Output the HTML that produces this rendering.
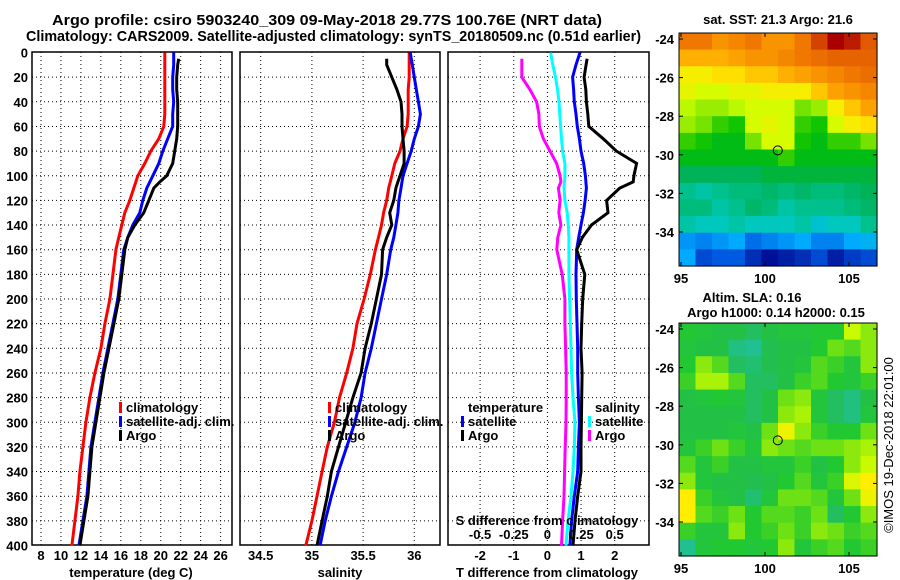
<!DOCTYPE html>
<html><head><meta charset="utf-8"><style>
html,body{margin:0;padding:0;background:#fff;}
svg{display:block;font-family:"Liberation Sans",Arial,sans-serif;font-weight:bold;}
</style></head><body>
<svg id="chart" width="900" height="580" viewBox="0 0 900 580" xmlns="http://www.w3.org/2000/svg">
<text x="52" y="25" font-size="15" textLength="550" lengthAdjust="spacingAndGlyphs">Argo profile: csiro 5903240_309 09-May-2018 29.77S 100.76E (NRT data)</text>
<text x="26" y="41" font-size="15" textLength="615" lengthAdjust="spacingAndGlyphs">Climatology: CARS2009. Satellite-adjusted climatology: synTS_20180509.nc (0.51d earlier)</text>
<g id="g"></g>
</svg>
<script>
// ---- profile data ----
const gridDepth=[0,10,20,30,40,50,60,70,80,90,100,110,120,130,140,150,160,180,200,220,240,260,280,300,320,340,360,380,400];
const argoDepth=[5,10,20,30,40,50,60,70,80,90,100,105,110,120,130,140,150,160,180,200,220,240,260,280,300,320,340,360,380,400];
const tempClim=[20.4,20.4,20.4,20.4,20.4,20.4,20.3,19.8,19.0,18.4,17.7,17.3,16.9,16.4,16.1,15.8,15.5,15.2,14.9,14.4,14.0,13.4,12.9,12.5,12.2,11.9,11.7,11.4,11.1];
const tempSat=[21.3,21.3,21.2,21.2,21.3,21.2,21.2,20.7,20.2,19.8,19.2,18.6,18.2,17.9,17.2,16.7,16.3,16.0,15.7,15.2,14.7,14.2,13.8,13.4,13.0,12.8,12.6,12.2,11.8];
const tempArgo=[21.8,21.7,21.6,21.6,21.7,21.7,21.7,21.6,21.4,21.2,20.6,19.9,19.3,18.8,18.3,17.4,16.7,16.4,16.1,15.8,15.3,14.8,14.3,13.9,13.5,13.1,12.9,12.7,12.3,11.9];
const salClim=[35.95,35.95,35.95,35.94,35.94,35.94,35.93,35.89,35.86,35.81,35.78,35.75,35.73,35.7,35.68,35.65,35.62,35.57,35.51,35.44,35.4,35.34,35.27,35.22,35.15,35.1,35.05,35.0,34.94];
const salSat=[35.96,35.98,36.0,36.02,36.04,36.06,36.04,36.0,35.97,35.93,35.89,35.87,35.85,35.84,35.82,35.8,35.77,35.73,35.68,35.63,35.58,35.52,35.48,35.42,35.34,35.26,35.19,35.13,35.08];
const salArgo=[35.73,35.73,35.78,35.83,35.87,35.88,35.88,35.89,35.9,35.9,35.86,35.84,35.82,35.8,35.76,35.78,35.73,35.69,35.68,35.63,35.58,35.52,35.48,35.4,35.33,35.26,35.19,35.15,35.1,35.05];
const tDiffSat=[0.97,0.85,0.75,0.78,0.8,0.85,0.89,0.95,1.0,1.08,1.13,1.16,1.12,1.07,1.0,0.93,0.87,0.85,0.86,0.88,0.9,0.9,0.92,0.95,0.92,0.9,0.8,0.72,0.67];
const sDiffSat=[0.024,0.04,0.06,0.075,0.086,0.092,0.098,0.105,0.113,0.13,0.13,0.123,0.13,0.147,0.155,0.16,0.16,0.16,0.165,0.17,0.175,0.18,0.19,0.205,0.2,0.19,0.175,0.153,0.138];
const tDiffArgo=[1.18,1.15,1.09,1.14,1.16,1.2,1.23,1.66,2.05,2.65,2.57,2.55,2.15,1.76,1.8,1.31,1.04,0.87,1.11,1.05,1.02,1.0,1.03,1.02,1.01,1.0,1.0,0.9,0.82,0.76];
const sDiffArgo=[-0.19,-0.19,-0.19,-0.13,-0.08,-0.063,-0.06,-0.03,0.019,0.068,0.094,0.1,0.082,0.094,0.085,0.1,0.077,0.07,0.11,0.13,0.13,0.135,0.14,0.14,0.138,0.132,0.128,0.123,0.113,0.105];
const depthTicks=[0,20,40,60,80,100,120,140,160,180,200,220,240,260,280,300,320,340,360,380,400];
const tempTicks=[8,10,12,14,16,18,20,22,24,26];
const salTicks=[34.5,35,35.5,36];
const tDiffTicks=[-2,-1,0,1,2];
const sDiffTickLabels=["-0.5","-0.25","0","0.25","0.5"];
const sDiffTicks=[-0.5,-0.25,0,0.25,0.5];
// ---- map data ----
const mapLons=[95,100,105];
const mapLats=[-24,-26,-28,-30,-32,-34];
const sstGrid=[
[22.0,22.0,21.8,21.9,22.0,21.8,21.8,22.0,22.5,23.0,22.8,22.3],
[21.6,21.6,21.6,21.7,21.8,21.8,21.9,22.0,22.1,22.2,22.2,22.2],
[21.3,21.3,21.4,21.4,21.5,21.5,21.6,21.7,21.8,21.9,22.0,22.1],
[21.2,21.1,21.1,21.2,21.2,21.3,21.3,21.3,21.5,21.7,21.8,21.9],
[21.0,20.9,20.9,21.0,21.1,21.1,21.1,20.8,20.9,21.3,21.5,21.7],
[20.9,20.8,20.6,20.5,21.1,21.2,21.1,20.6,20.5,21.1,21.3,21.4],
[20.6,20.5,20.4,20.4,20.8,21.1,21.1,20.5,20.4,20.6,20.6,20.8],
[20.4,20.4,20.4,20.4,20.4,20.4,20.6,20.4,20.4,20.4,20.4,20.4],
[20.2,20.2,20.2,20.2,20.2,20.3,20.3,20.3,20.3,20.3,20.3,20.3],
[19.9,19.8,19.9,20.0,20.0,20.1,20.0,20.1,20.0,20.0,20.1,20.2],
[20.0,20.0,19.8,19.9,20.1,20.0,19.8,19.9,19.9,19.9,20.0,20.1],
[19.8,19.7,19.7,19.8,19.7,19.7,19.7,19.8,19.6,19.7,19.7,19.9],
[19.2,19.1,19.2,19.3,19.0,19.1,19.2,19.3,19.1,19.1,19.3,19.4],
[19.3,18.8,18.9,18.9,18.6,18.4,18.5,18.6,18.8,18.5,18.7,18.8]];
const slaGrid=[
[.4,.35,.3,.3,.2,.3,.35,.35,.4,.4,.7,.6],
[.35,.3,.3,.1,.05,.25,.3,.3,.4,.55,.5,.6],
[.4,.6,.5,.2,.15,.25,.3,.35,.5,.45,.35,.6],
[.45,.65,.65,.5,.2,.2,.3,.45,.5,.4,.35,.45],
[.3,.35,.4,.35,.2,.3,.55,.6,.35,.2,.1,.3],
[.3,.3,.3,.3,.2,.3,.6,.65,.35,.2,.1,.35],
[.3,.3,.3,.35,.3,.55,.8,.6,.45,.4,.4,.55],
[.35,.45,.55,.45,.35,.6,.55,.5,.55,.55,.6,.65],
[.5,.35,.45,.3,.3,.35,.35,.45,.3,.4,.6,.7],
[.6,.35,.3,.3,.25,.3,.4,.5,.35,.45,.75,.85],
[.85,.45,.35,.3,.15,.35,.55,.55,.5,.35,.55,.8],
[.85,.5,.45,.55,.4,.5,.5,.45,.55,.2,.4,.6],
[.45,.35,.35,.6,.4,.45,.55,.45,.6,.55,.45,.5],
[.05,.35,.4,.4,.35,.4,.6,.35,.45,.5,.4,.45]];
const argoLon=100.76, argoLat=-29.77;

const NS="http://www.w3.org/2000/svg";
const G=document.getElementById('g');
function el(tag,attrs,parent){const e=document.createElementNS(NS,tag);for(const k in attrs)e.setAttribute(k,attrs[k]);(parent||G).appendChild(e);return e;}
function txt(s,x,y,anchor,size,parent){const t=el('text',{x:x,y:y,'text-anchor':anchor||'middle','font-size':size||13},parent);t.textContent=s;return t;}

const Y0=52.5, YK=1.2325, PT=52, PB=545;
const yD=d=>Y0+d*YK;
const xT=t=>41+(t-8)*9.98;
const xS=s=>260.7+(s-34.5)*102.4;
const xDT=t=>547.4+t*33.65;
const xDS=s=>547.4+s*134.6;

function panel(name,x0,x1,xticks,xfun,labels,ax,axlabel){
  const g=el('g',{});
  
  
  depthTicks.forEach(d=>{ if(d>0&&d<400){const l=el('line',{x1:x0,x2:x1,y1:yD(d),y2:yD(d),stroke:'#000','stroke-width':1,'stroke-dasharray':'1,3'},g);
    
    }});
  xticks.forEach((v,i)=>{const x=xfun(v); if(x>x0+2&&x<x1-2){const l=el('line',{x1:x,x2:x,y1:PT,y2:PB,stroke:'#000','stroke-width':1,'stroke-dasharray':'1,3'},g);
    
    }
    const t=txt(labels[i],x,560,'middle',13,g);
    
    });
  const r=el('rect',{x:x0,y:PT,width:x1-x0,height:PB-PT,fill:'none',stroke:'#000','stroke-width':1.5},g);
  
  
  const t=txt(axlabel,ax,577,'middle',13,g);
  
  
  return g;
}
function series(g,depths,vals,xfun,color,name){
  const pts=vals.map((v,i)=>xfun(v).toFixed(1)+','+yD(depths[i]).toFixed(1)).join(' ');
  const p=el('polyline',{points:pts,fill:'none',stroke:color,'stroke-width':3,'stroke-linejoin':'miter'},g);
  
  
}
function legend(g,x,y,items){
  items.forEach((it,i)=>{
    const m=el('rect',{x:x,y:y+i*14-10,width:3,height:11,fill:it[1]},g);
    
    
    const t=txt(it[0],x+7,y+i*14,'start',13,g);
    
    
  });
}
depthTicks.forEach(d=>{const t=txt(String(d),28,yD(d)+5,'end',13);
  
  });

const p1=panel('temperature-panel',32,232,tempTicks,xT,tempTicks.map(String),131,'temperature (deg C)');
series(p1,gridDepth,tempClim,xT,'#ff0000','temp-climatology-line');
series(p1,gridDepth,tempSat,xT,'#0000ff','temp-satellite-line');
series(p1,argoDepth,tempArgo,xT,'#000000','temp-argo-line');
legend(p1,119,412,[['climatology','#ff0000'],['satellite-adj. clim.','#0000ff'],['Argo','#000']]);

const p2=panel('salinity-panel',240,440,salTicks,xS,salTicks.map(String),340,'salinity');
series(p2,gridDepth,salClim,xS,'#ff0000','sal-climatology-line');
series(p2,gridDepth,salSat,xS,'#0000ff','sal-satellite-line');
series(p2,argoDepth,salArgo,xS,'#000000','sal-argo-line');
legend(p2,328,412,[['climatology','#ff0000'],['satellite-adj. clim.','#0000ff'],['Argo','#000']]);

const p3=panel('difference-panel',448,649,tDiffTicks,xDT,tDiffTicks.map(String),547,'T difference from climatology');
series(p3,argoDepth,sDiffArgo,xDS,'#ff00ff','s-diff-argo-line');
series(p3,gridDepth,sDiffSat,xDS,'#00ffff','s-diff-satellite-line');
series(p3,gridDepth,tDiffSat,xDT,'#0000ff','t-diff-satellite-line');
series(p3,argoDepth,tDiffArgo,xDT,'#000000','t-diff-argo-line');
{const t=txt('temperature',468,412,'start',13,p3);}
legend(p3,461,426,[['satellite','#0000ff'],['Argo','#000']]);
{const t=txt('salinity',595,412,'start',13,p3);}
legend(p3,588,426,[['satellite','#00ffff'],['Argo','#ff00ff']]);
{const t=txt('S difference from climatology',547,525,'middle',13,p3);}
sDiffTicks.forEach((v,i)=>{const t=txt(sDiffTickLabels[i],xDS(v),539,'middle',13,p3);
  
  });

function interp(stops,v){
  if(v<=stops[0][0])return stops[0][1];
  for(let i=1;i<stops.length;i++){if(v<=stops[i][0]){const a=stops[i-1],b=stops[i],f=(v-a[0])/(b[0]-a[0]);
    const c=a[1].map((x,k)=>Math.round(x+(b[1][k]-x)*f));return c;}}
  return stops[stops.length-1][1];
}
const sstStops=[[18.4,[0,16,150]],[18.9,[0,90,225]],[19.3,[0,170,255]],[19.7,[0,200,190]],[19.95,[0,190,130]],[20.25,[0,176,80]],[20.45,[0,192,0]],[20.75,[100,220,0]],[21.05,[204,255,0]],[21.35,[255,235,0]],[21.6,[255,175,0]],[22.0,[240,120,0]],[22.4,[220,80,0]],[23.0,[170,0,0]]];
const slaStops=[[0,[32,192,160]],[0.25,[34,190,80]],[0.4,[34,200,50]],[0.55,[110,225,20]],[0.7,[200,250,0]],[0.85,[255,238,0]],[1,[255,200,0]]];
const MX0=679,MX1=877;
const lonX=lon=>681+(lon-95)*16.8;
function map(name,top,grid,stops,title){
  const g=el('g',{});
  
  
  const bot=top+233;
  const latY=lat=>top+6+(-24-lat)*19.3;
  const rows=grid.length, cols=grid[0].length;
  const cw=(MX1-MX0)/cols, ch=(bot-top)/rows;
  grid.forEach((row,r)=>row.forEach((v,c)=>{
    const col=interp(stops,v);
    const cell=el('rect',{x:(MX0+c*cw).toFixed(2),y:(top+r*ch).toFixed(2),width:(cw+0.6).toFixed(2),height:(ch+0.6).toFixed(2),fill:'rgb('+col.join(',')+')'},g);
    
    
  }));
  const fr=el('rect',{x:MX0,y:top,width:MX1-MX0,height:bot-top,fill:'none',stroke:'#000','stroke-width':1},g);
  
  
  mapLats.forEach(lat=>{const y=latY(lat);
    el('line',{x1:MX0,x2:MX0+4,y1:y,y2:y,stroke:'#000'},g);el('line',{x1:MX1-4,x2:MX1,y1:y,y2:y,stroke:'#000'},g);
    const t=txt(String(lat),674,y+5,'end',13,g);
    
    });
  mapLons.forEach(lon=>{const x=lonX(lon);
    el('line',{x1:x,x2:x,y1:bot-4,y2:bot,stroke:'#000'},g);el('line',{x1:x,x2:x,y1:top,y2:top+4,stroke:'#000'},g);
    const t=txt(String(lon),x,bot+17,'middle',13,g);
    
    });
  const c=el('circle',{cx:lonX(argoLon),cy:latY(argoLat),r:4.5,fill:'none',stroke:'#000','stroke-width':1},g);
  
  
  title.forEach(tl=>{const t=txt(tl[0],tl[1],tl[2],'middle',13,g);
    
    });
}
map('sst-map',33,sstGrid,sstStops,[['sat. SST: 21.3 Argo: 21.6',778,24]]);
map('sla-map',323,slaGrid,slaStops,[['Altim. SLA: 0.16',752,302],['Argo h1000: 0.14 h2000: 0.15',776,317]]);
{const t=el('text',{x:0,y:0,'font-size':13,'font-weight':'normal',transform:'translate(893,445) rotate(-90)','text-anchor':'middle'});
 t.textContent='©IMOS 19-Dec-2018 22:01:00';
 
 }
</script>
</body></html>
